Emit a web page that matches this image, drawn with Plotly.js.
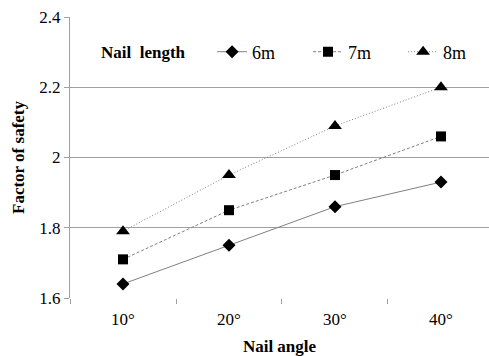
<!DOCTYPE html>
<html>
<head>
<meta charset="utf-8">
<script src="https://cdn.plot.ly/plotly-3.0.1.min.js"></script>
<style>html,body{margin:0;padding:0;background:#fff;}#chart{width:489px;height:356px;}</style>
</head>
<body>
<div id="chart"></div>
<script>
const angles = ['10°', '20°', '30°', '40°'];
const seriesNames = ['6m', '7m', '8m'];
const fos6m = [1.64, 1.75, 1.86, 1.93];
const fos7m = [1.71, 1.85, 1.95, 2.06];
const fos8m = [1.79, 1.95, 2.09, 2.20];
const yTicks = [1.6, 1.8, 2.0, 2.2, 2.4];
const yTickText = ['1.6', '1.8', '2', '2.2', '2.4'];
const legendTitle = 'Nail  length';

const font = 'Liberation Serif, serif';
const traces = [
  {x: angles, y: fos6m, name: seriesNames[0], type: 'scatter', mode: 'lines+markers', legend: 'legend',
   line: {color: '#808080', width: 1, dash: 'solid'},
   marker: {symbol: 'diamond', size: 10, color: '#000'}},
  {x: angles, y: fos7m, name: seriesNames[1], type: 'scatter', mode: 'lines+markers', legend: 'legend2',
   line: {color: '#808080', width: 1, dash: '3px,2px'},
   marker: {symbol: 'square', size: 10, color: '#000'}},
  {x: angles, y: fos8m, name: seriesNames[2], type: 'scatter', mode: 'lines+markers', legend: 'legend3',
   line: {color: '#808080', width: 1, dash: '1px,2px'},
   marker: {symbol: 'triangle-up', size: 12, color: '#000'}}
];

function leg(x) {
  return {orientation: 'h', x: x, xanchor: 'left', y: 0.8754, yanchor: 'middle',
    bgcolor: 'rgba(0,0,0,0)', borderwidth: 0, font: {family: font, size: 18, color: '#000'}};
}

const layout = {
  width: 489, height: 356,
  margin: {l: 70, r: 0, t: 17, b: 58},
  paper_bgcolor: '#fff', plot_bgcolor: '#fff',
  font: {family: font, size: 17, color: '#000'},
  showlegend: true,
  legend: leg(0.339),
  legend2: leg(0.568),
  legend3: leg(0.795),
  annotations: [{
    text: '<b>' + legendTitle + '</b>', xref: 'paper', yref: 'paper', x: 0.069, y: 0.8754,
    xanchor: 'left', yanchor: 'middle', showarrow: false, font: {family: font, size: 17, color: '#000'}
  }],
  xaxis: {
    type: 'category', range: [-0.5, 3.453], tickson: 'boundaries',
    ticks: 'outside', ticklen: 5, tickcolor: '#a0a0a0', tickwidth: 1,
    showline: false, showgrid: false, zeroline: false, ticklabelstandoff: 9,
    tickfont: {family: font, size: 17, color: '#000'},
    title: {text: '<b>Nail angle</b>', font: {family: font, size: 17, color: '#000'}, standoff: 12}
  },
  yaxis: {
    range: [1.6, 2.4], tickvals: yTicks, ticktext: yTickText,
    ticks: 'outside', ticklen: 5, tickcolor: '#a0a0a0', tickwidth: 1,
    showline: true, linecolor: '#a0a0a0', linewidth: 1,
    showgrid: true, gridcolor: '#a0a0a0', gridwidth: 1, zeroline: false,
    tickfont: {family: font, size: 17, color: '#000'},
    title: {text: '<b>Factor of safety</b>', font: {family: font, size: 17, color: '#000'}, standoff: 10}
  }
};

Plotly.newPlot('chart', traces, layout, {displayModeBar: false, staticPlot: true});
</script>
</body>
</html>
